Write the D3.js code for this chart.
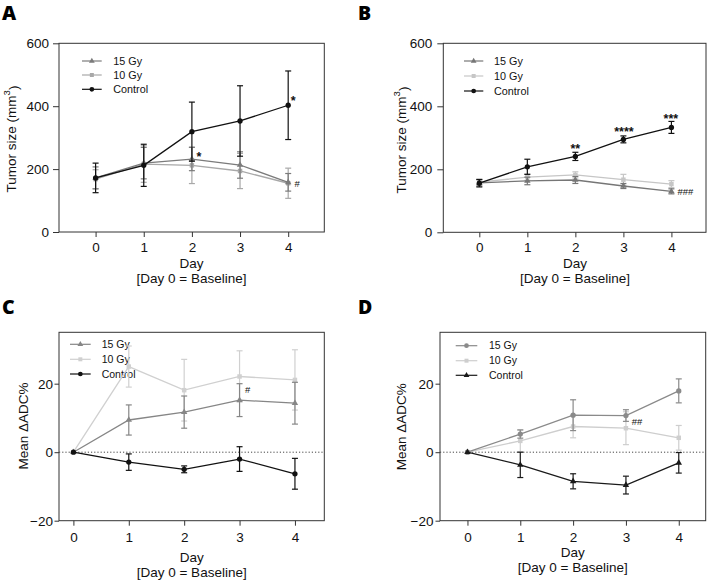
<!DOCTYPE html>
<html><head><meta charset="utf-8">
<script src="https://cdn.jsdelivr.net/npm/d3@7"></script>
<style>
html,body{margin:0;padding:0;background:#fff;}
svg{display:block;font-family:"Liberation Sans",Arial,sans-serif;}
</style></head>
<body>
<svg id="chart" width="709" height="580"></svg>
<script>
// ---------------- DATA ----------------
const days = [0, 1, 2, 3, 4];
const seriesNames = ["15 Gy", "10 Gy", "Control"];
const tumorTicks = [0, 200, 400, 600];
const adcTicks = [-20, 0, 20];

// Panel A: tumor size (mm3)
const aGy15 = [172, 219, 232, 213, 158];
const aGy15Err = [35, 50, 37, 42, 28];
const aGy10 = [168, 216, 212, 194, 155];
const aGy10Err = [30, 58, 58, 56, 48];
const aCtrl = [172, 212, 319, 353, 403];
const aCtrlErr = [47, 67, 94, 112, 109];

// Panel B: tumor size (mm3)
const bGy15 = [157, 163, 166, 147, 130];
const bGy15Err = [10, 12, 11, 8, 8];
const bGy10 = [159, 175, 182, 167, 153];
const bGy10Err = [8, 10, 10, 17, 11];
const bCtrl = [156, 208, 241, 295, 333];
const bCtrlErr = [12, 24, 13, 11, 19];

// Panel C: mean ΔADC%
const cGy15 = [0, 9.4, 11.7, 15.2, 14.3];
const cGy15Err = [0, 4.4, 4.7, 4.8, 6.1];
const cGy10 = [0, 25.0, 18.1, 22.1, 21.1];
const cGy10Err = [0, 6.0, 9.0, 7.5, 8.8];
const cCtrl = [0, -2.9, -5.0, -2.0, -6.3];
const cCtrlErr = [0, 2.4, 1.0, 3.6, 4.5];

// Panel D: mean ΔADC%
const dGy15 = [0, 5.3, 10.8, 10.7, 17.9];
const dGy15Err = [0, 1.2, 4.5, 1.7, 3.5];
const dGy10 = [0, 3.3, 7.5, 7.0, 4.2];
const dGy10Err = [0, 3.2, 3.3, 4.8, 3.6];
const dCtrl = [0, -3.7, -8.5, -9.6, -3.1];
const dCtrlErr = [0, 3.7, 2.2, 2.6, 3.0];

// significance marks: [series index, day, text]
const aMarks = [[0, 2, "*"], [2, 4, "*"], [0, 4, "#"]];
const bMarks = [[2, 2, "**"], [2, 3, "****"], [2, 4, "***"], [0, 4, "###"]];
const cMarks = [[0, 3, "#"]];
const dMarks = [[0, 3, "##"]];

// ---------------- LAYOUT ----------------
const FONT = "'Liberation Sans',Arial,sans-serif";
const TXT = "#111";
const svg = d3.select("#chart");

const panels = [
  {letter: "A", lx: 2, ly: 19.5,
   box: [59, 43.3, 324.3, 232], xdom: [-0.76, 4.75], ydom: [0, 600], yticks: tumorTicks,
   ytickLen: 6, ytickPad: 4,
   ylabel: "tumor", ylx: 11, yly: 139,
   tickY: 247.3, dayY: 262.7, baseY: 278.3, labelX: 191.5,
   legend: {x1: 82, x2: 101.7, tx: 113.3, ys: [61, 75, 89.3], fs: 10.8},
   series: [[aGy15, aGy15Err], [aGy10, aGy10Err], [aCtrl, aCtrlErr]],
   colors: ["#7b7b7b", "#a8a8a8", "#111"],
   symbols: [d3.symbolTriangle, d3.symbolSquare, d3.symbolCircle],
   marks: aMarks,
   markOff: {"0-2-*": [7, -5], "2-4-*": [5, -7], "0-4-#": [9, 1]},
   zeroLine: false},
  {letter: "B", lx: 358, ly: 19.5,
   box: [443.3, 43.3, 706, 232.3], xdom: [-0.75, 4.72], ydom: [0, 600], yticks: tumorTicks,
   ytickLen: 6, ytickPad: 5,
   ylabel: "tumor", ylx: 400.7, yly: 140,
   tickY: 247.3, dayY: 263.3, baseY: 278.3, labelX: 575,
   legend: {x1: 464, x2: 483.3, tx: 494, ys: [61, 76, 91], fs: 10.8},
   series: [[bGy15, bGy15Err], [bGy10, bGy10Err], [bCtrl, bCtrlErr]],
   colors: ["#767676", "#c6c6c6", "#111"],
   symbols: [d3.symbolTriangle, d3.symbolSquare, d3.symbolCircle],
   marks: bMarks,
   markOff: {"2-2-**": [0, -10.7], "2-3-****": [0.5, -10.4], "2-4-***": [-0.5, -11.8], "0-4-###": [14, 0]},
   zeroLine: false},
  {letter: "C", lx: 2, ly: 313.5,
   box: [59, 332.3, 324.3, 520.7], xdom: [-0.26, 4.53], ydom: [-20, 35], yticks: adcTicks,
   ytickLen: 4.5, ytickPad: 1.5,
   ylabel: "adc", ylx: 23.3, yly: 426,
   tickY: 536.7, dayY: 556.7, baseY: 571.7, labelX: 191.7,
   legend: {x1: 70, x2: 90.7, tx: 101.7, ys: [344.3, 359.3, 374], fs: 10.5},
   series: [[cGy15, cGy15Err], [cGy10, cGy10Err], [cCtrl, cCtrlErr]],
   colors: ["#868686", "#d0d0d0", "#111"],
   symbols: [d3.symbolTriangle, d3.symbolSquare, d3.symbolCircle],
   marks: cMarks,
   markOff: {"0-3-#": [8, -10.5]},
   zeroLine: true},
  {letter: "D", lx: 358, ly: 313.5,
   box: [440, 332.3, 705.7, 520.7], xdom: [-0.52, 4.51], ydom: [-20, 35], yticks: adcTicks,
   ytickLen: 4.5, ytickPad: 2,
   ylabel: "adc", ylx: 400.7, yly: 426.7,
   tickY: 536.7, dayY: 552, baseY: 566.7, labelX: 572.8,
   legend: {x1: 455.7, x2: 477.3, tx: 489, ys: [345.7, 360.7, 375.3], fs: 10.5},
   series: [[dGy15, dGy15Err], [dGy10, dGy10Err], [dCtrl, dCtrlErr]],
   colors: ["#8a8a8a", "#cecece", "#1a1a1a"],
   symbols: [d3.symbolCircle, d3.symbolSquare, d3.symbolTriangle],
   marks: dMarks,
   markOff: {"0-3-##": [11, 6.4]},
   zeroLine: true}
];

function symSize(t) {
  if (t === d3.symbolCircle) return 22;
  if (t === d3.symbolSquare) return 20;
  return 18;
}

const FS = 13.5;

panels.forEach(p => {
  const g = svg.append("g");
  const [x0, y0, x1, y1] = p.box;
  const x = d3.scaleLinear().domain(p.xdom).range([x0, x1]);
  const y = d3.scaleLinear().domain(p.ydom).range([y1, y0]);

  // panel letter
  g.append("text").attr("x", p.lx).attr("y", p.ly)
    .attr("font-size", 19.5).attr("font-weight", 800)
    .attr("font-family", "'Open Sans','Liberation Sans',Arial,sans-serif")
    .attr("fill", "#000").text(p.letter);

  // x axis
  const xa = g.append("g").attr("transform", `translate(0,${y1})`)
    .call(d3.axisBottom(x).tickValues(days).tickFormat(d3.format("d"))
      .tickSize(5).tickSizeOuter(0).tickPadding(6));
  xa.attr("font-family", FONT);
  xa.select(".domain").remove();
  xa.selectAll(".tick line").attr("stroke", "#333");
  xa.selectAll(".tick text").attr("font-size", FS).attr("fill", TXT)
    .attr("y", p.tickY - y1).attr("dy", "0.36em");

  // y axis
  const ya = g.append("g").attr("transform", `translate(${x0},0)`)
    .call(d3.axisLeft(y).tickValues(p.yticks).tickFormat(d3.format("d"))
      .tickSize(p.ytickLen).tickSizeOuter(0).tickPadding(p.ytickPad));
  ya.attr("font-family", FONT);
  ya.select(".domain").remove();
  ya.selectAll(".tick line").attr("stroke", "#333");
  ya.selectAll(".tick text").attr("font-size", FS).attr("fill", TXT);

  // frame
  g.append("rect").attr("x", x0).attr("y", y0).attr("width", x1 - x0).attr("height", y1 - y0)
    .attr("fill", "none").attr("stroke", "#333").attr("stroke-width", 1);

  // zero dotted line
  if (p.zeroLine) {
    g.append("line").attr("x1", x0).attr("x2", x1).attr("y1", y(0)).attr("y2", y(0))
      .attr("stroke", "#444").attr("stroke-width", 1).attr("stroke-dasharray", "1.2,2");
  }

  // axis titles
  g.append("text").attr("x", p.labelX).attr("y", p.dayY).attr("dy", "0.36em")
    .attr("font-family", FONT)
    .attr("text-anchor", "middle").attr("font-size", FS).attr("fill", TXT).text("Day");
  g.append("text").attr("x", p.labelX).attr("y", p.baseY).attr("dy", "0.36em")
    .attr("font-family", FONT)
    .attr("text-anchor", "middle").attr("font-size", FS).attr("fill", TXT).text("[Day 0 = Baseline]");

  const yl = g.append("text")
    .attr("transform", `translate(${p.ylx},${p.yly}) rotate(-90)`)
    .attr("font-family", FONT)
    .attr("dy", "0.36em").attr("text-anchor", "middle").attr("font-size", FS).attr("fill", TXT);
  if (p.ylabel === "tumor") {
    yl.append("tspan").text("Tumor size (mm");
    yl.append("tspan").attr("font-size", 9.5).attr("dy", "-0.6em").text("3");
    yl.append("tspan").attr("dy", "0.6em").text(")");
  } else {
    yl.text("Mean \u0394ADC%");
  }

  // legend
  seriesNames.forEach((name, i) => {
    const ly = p.legend.ys[i];
    g.append("line").attr("x1", p.legend.x1).attr("x2", p.legend.x2).attr("y1", ly).attr("y2", ly)
      .attr("stroke", p.colors[i]).attr("stroke-width", 1.2);
    g.append("path").attr("transform", `translate(${(p.legend.x1 + p.legend.x2) / 2},${ly})`)
      .attr("d", d3.symbol().type(p.symbols[i]).size(symSize(p.symbols[i]) * 0.8)())
      .attr("fill", p.colors[i]);
    g.append("text").attr("x", p.legend.tx).attr("y", ly).attr("dy", "0.36em")
      .attr("font-family", FONT)
      .attr("font-size", p.legend.fs).attr("fill", TXT).text(name);
  });

  // series: draw 10 Gy, 15 Gy, then Control on top
  const order = [1, 0, 2];
  const line = d3.line().x((d, i) => x(days[i])).y(d => y(d));
  order.forEach(si => {
    const [vals, errs] = p.series[si];
    const col = p.colors[si];
    const sg = g.append("g");
    vals.forEach((v, i) => {
      const e = errs[i];
      if (!e) return;
      const cx = x(days[i]);
      sg.append("line").attr("x1", cx).attr("x2", cx).attr("y1", y(v - e)).attr("y2", y(v + e))
        .attr("stroke", col).attr("stroke-width", 1.2);
      [v - e, v + e].forEach(ev => {
        sg.append("line").attr("x1", cx - 3).attr("x2", cx + 3).attr("y1", y(ev)).attr("y2", y(ev))
          .attr("stroke", col).attr("stroke-width", 1.2);
      });
    });
    sg.append("path").datum(vals).attr("d", line).attr("fill", "none")
      .attr("stroke", col).attr("stroke-width", 1.3);
    sg.selectAll("path.m").data(vals).enter().append("path").attr("class", "m")
      .attr("transform", (d, i) => `translate(${x(days[i])},${y(d)})`)
      .attr("d", d3.symbol().type(p.symbols[si]).size(symSize(p.symbols[si]))())
      .attr("fill", col);
  });

  // significance marks
  p.marks.forEach(([si, day, txt]) => {
    const v = p.series[si][0][days.indexOf(day)];
    const off = p.markOff[`${si}-${day}-${txt}`] || [0, 0];
    const isStar = txt[0] === "*";
    const fs = isStar ? 12.5 : 9.5;
    g.append("text").attr("x", x(day) + off[0]).attr("y", y(v) + off[1])
      .attr("font-family", FONT)
      .attr("dy", isStar ? "0.57em" : "0.36em")
      .attr("text-anchor", "middle").attr("font-size", fs)
      .attr("font-weight", isStar ? "bold" : "normal")
      .attr("fill", "#111").text(txt);
  });
});
</script>
</body></html>
